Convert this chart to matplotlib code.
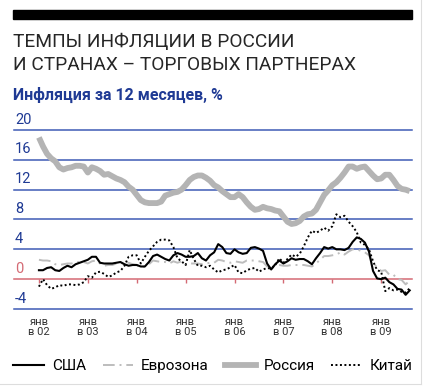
import numpy as np
import matplotlib
matplotlib.use("Agg")
import matplotlib.pyplot as plt
from matplotlib.patches import Rectangle
from matplotlib.lines import Line2D

plt.rcParams['font.family'] = ['Roboto', 'DejaVu Sans']

# monthly values, Jan 2002 .. Aug 2009
start_year = 2002
usa = [1.2, 1.2, 1.5, 1.6, 1.2, 1.1, 1.5, 1.8, 1.6, 2.0, 2.2, 2.4,
       2.6, 3.0, 3.0, 2.2, 2.1, 2.1, 2.1, 2.2, 2.3, 2.0, 1.8, 1.9,
       1.9, 1.7, 1.7, 2.3, 3.1, 3.3, 3.0, 2.7, 2.5, 3.2, 3.5, 3.3,
       3.0, 3.0, 3.1, 3.5, 2.8, 2.5, 3.2, 3.6, 4.7, 4.3, 3.5, 3.4,
       4.0, 3.6, 3.4, 3.5, 4.2, 4.3, 4.1, 3.8, 2.1, 1.3, 2.0, 2.5,
       2.1, 2.4, 2.8, 2.6, 2.7, 2.7, 2.4, 2.0, 2.8, 3.5, 4.3, 4.1,
       4.3, 4.0, 4.0, 3.9, 4.2, 5.0, 5.6, 5.4, 4.9, 3.7, 1.1, 0.1,
       0.0, 0.2, -0.4, -0.7, -1.3, -1.4, -2.1, -1.5]
euro = [2.6, 2.5, 2.5, 2.4, 2.0, 1.9, 2.0, 2.1, 2.1, 2.3, 2.3, 2.3,
        2.1, 2.4, 2.5, 2.1, 1.8, 1.9, 1.9, 2.1, 2.2, 2.0, 2.2, 2.0,
        1.9, 1.6, 1.7, 2.0, 2.5, 2.4, 2.3, 2.3, 2.1, 2.4, 2.2, 2.4,
        1.9, 2.1, 2.1, 2.1, 2.0, 2.1, 2.2, 2.2, 2.6, 2.5, 2.3, 2.2,
        2.4, 2.3, 2.2, 2.5, 2.5, 2.5, 2.4, 2.3, 1.7, 1.6, 1.9, 1.9,
        1.8, 1.8, 1.9, 1.9, 1.9, 1.9, 1.8, 1.7, 2.1, 2.6, 3.1, 3.1,
        3.2, 3.3, 3.6, 3.3, 3.7, 4.0, 4.0, 3.8, 3.6, 3.2, 2.1, 1.6,
        1.1, 1.2, 0.6, 0.6, 0.0, -0.1, -0.7, -0.2]
russia = [19.0, 17.8, 16.8, 16.2, 15.8, 15.0, 14.7, 14.9, 15.0, 15.2, 15.2, 15.1,
          14.3, 15.0, 14.8, 14.5, 14.0, 14.1, 13.8, 13.5, 13.3, 13.0, 12.4, 12.0,
          11.3, 10.6, 10.3, 10.2, 10.2, 10.2, 10.4, 11.2, 11.4, 11.6, 11.7, 12.0,
          12.6, 13.3, 13.7, 13.9, 13.9, 13.6, 13.2, 12.6, 12.3, 11.8, 11.4, 11.0,
          11.0, 11.4, 11.0, 10.3, 9.7, 9.3, 9.4, 9.7, 9.5, 9.4, 9.2, 9.1,
          8.4, 7.7, 7.4, 7.5, 7.8, 8.4, 8.7, 8.8, 9.3, 10.3, 11.3, 11.9,
          12.6, 13.0, 13.6, 14.3, 15.1, 15.1, 14.8, 15.0, 15.1, 14.5, 13.9, 13.4,
          13.5, 14.0, 14.0, 13.3, 12.5, 12.1, 12.0, 11.8]
china = [-1.0, 0.0, -0.8, -1.3, -1.1, -0.8, -0.9, -0.7, -0.7, -0.8, -0.7, -0.4,
         0.4, 0.2, 0.9, 1.0, 0.7, 0.3, 0.5, 0.9, 1.1, 1.8, 3.0, 3.2,
         3.2, 2.1, 3.0, 3.8, 4.4, 5.0, 5.3, 5.3, 5.2, 4.3, 2.8, 2.4,
         1.9, 3.9, 2.7, 1.8, 1.8, 1.6, 1.8, 1.3, 0.9, 1.2, 1.3, 1.6,
         1.9, 0.9, 0.8, 1.2, 1.4, 1.5, 1.0, 1.3, 1.5, 1.4, 1.9, 2.8,
         2.2, 2.7, 3.3, 3.0, 3.4, 4.4, 5.6, 6.5, 6.2, 6.5, 6.9, 6.5,
         7.1, 8.7, 8.3, 8.5, 7.7, 7.1, 6.3, 4.9, 4.6, 4.0, 2.4, 1.2,
         1.0, -1.6, -1.2, -1.5, -1.4, -1.7, -1.8, -1.2]

years = list(range(2002, 2010))
year_labels = ["янв\nв 02", "янв\nв 03", "янв\nв 04", "янв\nв 05",
               "янв\nв 06", "янв\nв 07", "янв\nв 08", "янв\nв 09"]
y_levels = [20, 16, 12, 8, 4, 0, -4]

blue = '#3f5bb5'
red = '#d46a74'
navy = '#1f3a94'

x = start_year + np.arange(len(usa)) / 12.0

fig = plt.figure(figsize=(4.26, 3.87), dpi=100)
ax = fig.add_axes([14/426, 1-309/387, 398/426, 179/387])

ax.plot(x, russia, color='#b4b4b4', lw=4.2, zorder=3, solid_capstyle='butt')
ax.plot(x, euro, color='#bdbdbd', lw=1.4, ls=(0, (6, 2.5, 1, 2.5)), zorder=3)
ax.plot(x, china, color='black', lw=1.4, ls=(0, (1, 1.3)), zorder=4)
ax.plot(x, usa, color='black', lw=1.5, zorder=5)

ax.set_xlim(2001.49, 2009.63)
ax.set_ylim(-4, 20)

for v in y_levels:
    if v == 0:
        continue
    ax.axhline(v, color=blue, lw=1.1, zorder=1, clip_on=False)
    
for s in ['top', 'right', 'left']:
    ax.spines[s].set_visible(False)
ax.spines['bottom'].set_position(('data', 0))
ax.spines['bottom'].set_color(red)
ax.spines['bottom'].set_linewidth(1.1)

ax.set_yticks([])
ax.set_xticks(years)
ax.set_xticklabels(year_labels, fontsize=8, color='#333333', linespacing=1.1)
ax.tick_params(axis='x', colors=red, length=3, width=1, pad=24)
for lab in ax.get_xticklabels():
    lab.set_color('#333333')

for v in y_levels:
    ax.text(2001.51, v + 0.45, str(v), fontsize=10.5, ha='left', va='bottom',
            color=red if v == 0 else navy)

# header
fig.add_artist(Rectangle((13/426, 1-19/387), 399/426, 9/387,
                         transform=fig.transFigure, color='black'))
fig.text(13/426, 1-47/387, "ТЕМПЫ ИНФЛЯЦИИ В РОССИИ", fontsize=13.8,
         color='#262626', ha='left', va='baseline')
fig.text(13/426, 1-70/387, "И СТРАНАХ – ТОРГОВЫХ ПАРТНЕРАХ", fontsize=13.8,
         color='#262626', ha='left', va='baseline')
fig.text(13/426, 1-100/387, "Инфляция за 12 месяцев, %", fontsize=11.5,
         fontweight='bold', color=navy, ha='left', va='baseline')

# legend
handles = [Line2D([], [], color='black', lw=1.5),
           Line2D([], [], color='#bdbdbd', lw=1.4, ls=(0, (6, 2.5, 1, 2.5))),
           Line2D([], [], color='#b4b4b4', lw=4.2),
           Line2D([], [], color='black', lw=1.4, ls=(0, (1, 1.3)))]
fig.legend(handles, ["США", "Еврозона", "Россия", "Китай"], loc='center',
           bbox_to_anchor=(213/426, 1-366/387), ncol=4, frameon=False,
           fontsize=11, handlelength=2.0, handletextpad=0.5, columnspacing=1.1)

# faint frame edges
fig.add_artist(Line2D([421/426, 421/426], [1-384/387, 1], transform=fig.transFigure,
                      color='#dddddd', lw=0.8))
fig.add_artist(Line2D([0, 421/426], [1-384/387, 1-384/387], transform=fig.transFigure,
                      color='#dddddd', lw=0.8))

fig.savefig('out.png', dpi=100)
